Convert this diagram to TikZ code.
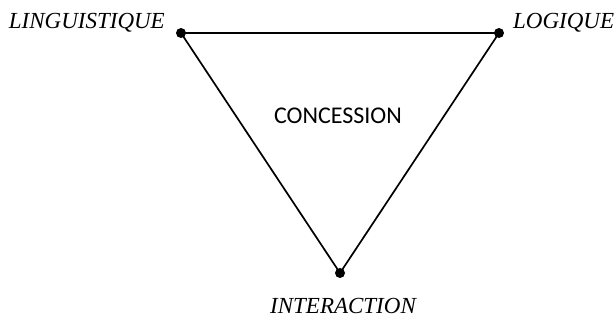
\documentclass[tikz,border=0pt]{standalone}
\usepackage{fontspec}
\setmainfont{Liberation Serif}
\newfontfamily\calib{Carlito}
\begin{document}
\begin{tikzpicture}[x=1pt,y=-1pt,
  vertex/.style={circle,fill=black,inner sep=0pt,minimum size=10pt},
  lab/.style={font=\fontsize{23}{27}\selectfont\itshape,inner sep=0pt},
  edge/.style={line width=1.7pt}]
\useasboundingbox (0,0) rectangle (614,320);
\node[vertex] (L) at (181,33) {};
\node[vertex] (R) at (499,33) {};
\node[vertex] (B) at (340,273) {};
\draw[edge] (L.center) -- (R.center) -- (B.center) -- cycle;
\node[lab,anchor=base east] (tl) at (165,29) {LINGUISTIQUE};
\node[lab,anchor=base west] (tr) at (513,29) {LOGIQUE};
\node[lab,anchor=base] (tb) at (343,314) {INTERACTION};
\node[font=\fontsize{24}{28}\calib,inner sep=0pt,anchor=base] (c) at (338,124) {CONCESSION};
\end{tikzpicture}
\end{document}
